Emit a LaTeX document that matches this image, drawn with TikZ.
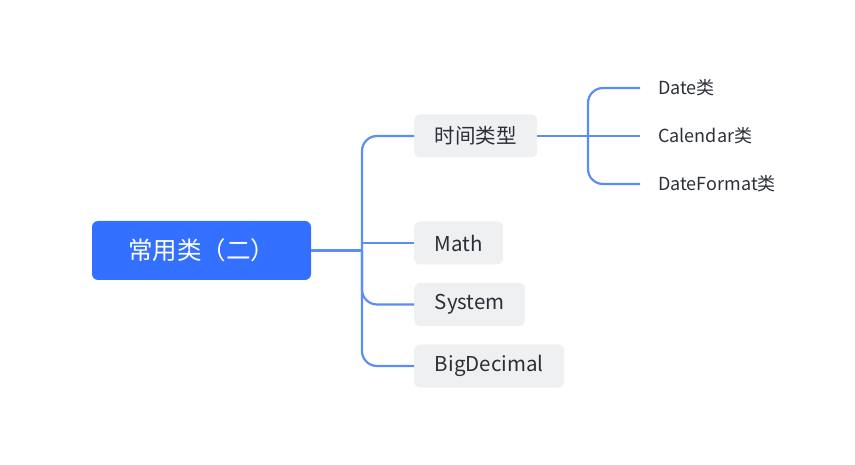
\documentclass[tikz,border=0pt]{standalone}
\usepackage{fontspec}
\setmainfont{Noto Sans CJK SC}
\definecolor{rootblue}{HTML}{3370FF}
\definecolor{linkblue}{HTML}{5B8DF6}
\definecolor{subgray}{HTML}{EFF0F2}
\definecolor{txt}{HTML}{2B2F36}
\begin{document}
\begin{tikzpicture}[x=1pt,y=-1pt,
  rootbox/.style={fill=rootblue,rounded corners=6pt,text=white,font=\fontsize{24.5}{28}\selectfont,inner sep=0pt,minimum width=219pt,minimum height=59pt},
  subbox/.style={fill=subgray,rounded corners=6pt,text=txt,font=\fontsize{20.5}{24}\selectfont,inner sep=0pt,minimum height=43pt,anchor=west},
  leaf/.style={text=txt,font=\fontsize{18}{22}\selectfont,inner sep=0pt,anchor=west},
  link/.style={draw=linkblue,line width=2.2pt,rounded corners=15pt}]
\useasboundingbox (0,0) rectangle (855,465);
\node[rootbox] (root) at (201.5,250.5) {常用类（二）};
\node[subbox,minimum width=123pt] (t1) at (414,136) {时间类型};
\node[subbox,minimum width=89pt] (t2) at (414,243) {Math};
\node[subbox,minimum width=111pt] (t3) at (414,304.5) {System};
\node[subbox,minimum width=150pt] (t4) at (414,366) {BigDecimal};
\node[leaf] (l1) at (658,88) {Date类};
\node[leaf] (l2) at (658,136) {Calendar类};
\node[leaf] (l3) at (658,184) {DateFormat类};
\coordinate (j1) at (362,250.5);
\coordinate (j2) at (588,136);
\draw[link] (root.east) -- (j1);
\draw[link] (t1.west) -| (j1);
\draw[link] (t2.west) -- (t2.west -| j1);
\draw[link] (t3.west) -| (j1);
\draw[link] (t4.west) -| (j1);
\draw[link] (t1.east) -- (j2);
\draw[link] ([xshift=-18pt]l1.west) -| (j2);
\draw[link] ([xshift=-18pt]l2.west) -- (j2);
\draw[link] ([xshift=-18pt]l3.west) -| (j2);
\end{tikzpicture}
\end{document}
